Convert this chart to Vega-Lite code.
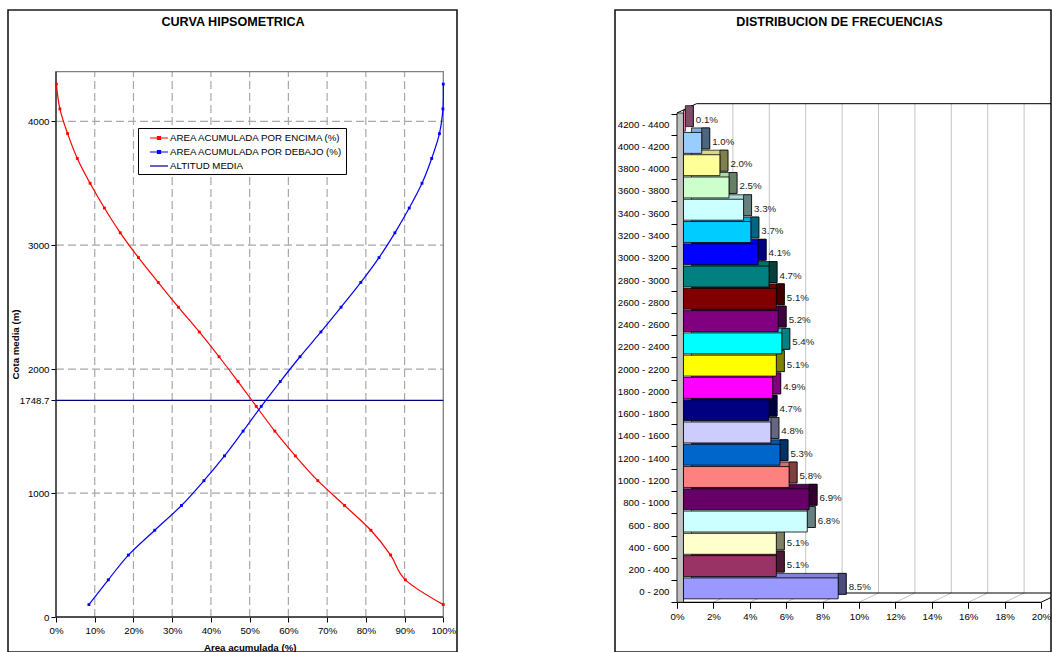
{
  "$schema": "https://vega.github.io/schema/vega-lite/v6.json",
  "background": "white",
  "padding": {"left": 7, "top": 4, "right": 0, "bottom": 0},
  "spacing": 158,
  "bounds": "flush",
  "config": {
    "font": "Liberation Sans",
    "view": {"stroke": "#1a1a1a", "strokeWidth": 1.6},
    "axis": {"labelFont": "Liberation Sans", "titleFont": "Liberation Sans", "labelColor": "#000", "titleColor": "#000", "tickColor": "#000"},
    "legend": {"labelFont": "Liberation Sans"}
  },
  "resolve": {"scale": {"color": "independent", "x": "independent", "y": "independent"}, "legend": {"color": "independent"}},
  "hconcat": [
    {
      "width": 449,
      "height": 642,
      "layer": [
        {
          "data": {"values": [{"g": 0.1}, {"g": 0.2}, {"g": 0.3}, {"g": 0.4}, {"g": 0.5}, {"g": 0.6}, {"g": 0.7}, {"g": 0.8}, {"g": 0.9}]},
          "mark": {"type": "rule", "color": "#a8a8a8", "strokeWidth": 1.2, "strokeDash": [8, 4]},
          "encoding": {
            "x": {"field": "g", "type": "quantitative", "scale": {"domain": [-0.12394, 1.03537], "nice": false, "zero": false}},
            "y": {"datum": 0, "scale": {"domain": [-282.4, 4897.9], "nice": false, "zero": false}},
            "y2": {"datum": 4400}
          }
        },
        {
          "data": {"values": [{"h": 1000}, {"h": 2000}, {"h": 3000}, {"h": 4000}]},
          "mark": {"type": "rule", "color": "#a8a8a8", "strokeWidth": 1.2, "strokeDash": [8, 4]},
          "encoding": {
            "y": {"field": "h", "type": "quantitative", "scale": {"domain": [-282.4, 4897.9], "nice": false, "zero": false}},
            "x": {"datum": 0, "scale": {"domain": [-0.12394, 1.03537], "nice": false, "zero": false}},
            "x2": {"datum": 1}
          }
        },
        {
          "data": {"values": [{}]},
          "mark": {"type": "rect", "fill": null, "fillOpacity": 0, "stroke": "#808080", "strokeWidth": 1.3},
          "encoding": {
            "x": {"datum": 0, "scale": {"domain": [-0.12394, 1.03537], "nice": false, "zero": false}},
            "x2": {"datum": 1},
            "y": {"datum": 0, "scale": {"domain": [-282.4, 4897.9], "nice": false, "zero": false}},
            "y2": {"datum": 4400}
          }
        },
        {
          "data": {"values": [{}]},
          "mark": {"type": "rule", "color": "#000", "strokeWidth": 1},
          "encoding": {
            "x": {"datum": 0, "scale": {"domain": [-0.12394, 1.03537], "nice": false, "zero": false}},
            "y": {"datum": 0, "scale": {"domain": [-282.4, 4897.9], "nice": false, "zero": false}},
            "y2": {"datum": 4400}
          }
        },
        {
          "data": {"values": [{}]},
          "mark": {"type": "rule", "color": "#000", "strokeWidth": 1},
          "encoding": {
            "x": {"datum": 0, "scale": {"domain": [-0.12394, 1.03537], "nice": false, "zero": false}},
            "x2": {"datum": 1},
            "y": {"datum": 0, "scale": {"domain": [-282.4, 4897.9], "nice": false, "zero": false}}
          }
        },
        {
          "data": {"values": [{"titulo": "CURVA HIPSOMETRICA"}]},
          "mark": {"type": "text", "font": "Liberation Sans", "fontSize": 12.6, "fontWeight": "bold", "color": "#000", "align": "center", "baseline": "middle"},
          "encoding": {
            "x": {"datum": 0.4571, "scale": {"domain": [-0.12394, 1.03537], "nice": false, "zero": false}},
            "y": {"datum": 4798.6, "scale": {"domain": [-282.4, 4897.9], "nice": false, "zero": false}},
            "text": {"field": "titulo", "type": "nominal"}
          }
        },
        {
          "data": {"values": [{"serie": "ALTITUD MEDIA", "cota": 1748.7}]},
          "mark": {"type": "rule", "strokeWidth": 1.2},
          "encoding": {
            "y": {"field": "cota", "type": "quantitative", "scale": {"domain": [-282.4, 4897.9], "nice": false, "zero": false}},
            "x": {"datum": 0, "scale": {"domain": [-0.12394, 1.03537], "nice": false, "zero": false}},
            "x2": {"datum": 1},
            "color": {"field": "serie", "type": "nominal"}
          }
        },
        {
          "data": {"values": [
            {"cota": 100, "AREA ACUMULADA POR ENCIMA (%)": 1.000, "AREA ACUMULADA POR DEBAJO (%)": 0.085},
            {"cota": 300, "AREA ACUMULADA POR ENCIMA (%)": 0.902, "AREA ACUMULADA POR DEBAJO (%)": 0.135},
            {"cota": 500, "AREA ACUMULADA POR ENCIMA (%)": 0.864, "AREA ACUMULADA POR DEBAJO (%)": 0.187},
            {"cota": 700, "AREA ACUMULADA POR ENCIMA (%)": 0.813, "AREA ACUMULADA POR DEBAJO (%)": 0.255},
            {"cota": 900, "AREA ACUMULADA POR ENCIMA (%)": 0.745, "AREA ACUMULADA POR DEBAJO (%)": 0.324},
            {"cota": 1100, "AREA ACUMULADA POR ENCIMA (%)": 0.676, "AREA ACUMULADA POR DEBAJO (%)": 0.382},
            {"cota": 1300, "AREA ACUMULADA POR ENCIMA (%)": 0.618, "AREA ACUMULADA POR DEBAJO (%)": 0.435},
            {"cota": 1500, "AREA ACUMULADA POR ENCIMA (%)": 0.565, "AREA ACUMULADA POR DEBAJO (%)": 0.483},
            {"cota": 1700, "AREA ACUMULADA POR ENCIMA (%)": 0.517, "AREA ACUMULADA POR DEBAJO (%)": 0.530},
            {"cota": 1900, "AREA ACUMULADA POR ENCIMA (%)": 0.470, "AREA ACUMULADA POR DEBAJO (%)": 0.579},
            {"cota": 2100, "AREA ACUMULADA POR ENCIMA (%)": 0.421, "AREA ACUMULADA POR DEBAJO (%)": 0.630},
            {"cota": 2300, "AREA ACUMULADA POR ENCIMA (%)": 0.370, "AREA ACUMULADA POR DEBAJO (%)": 0.684},
            {"cota": 2500, "AREA ACUMULADA POR ENCIMA (%)": 0.316, "AREA ACUMULADA POR DEBAJO (%)": 0.736},
            {"cota": 2700, "AREA ACUMULADA POR ENCIMA (%)": 0.264, "AREA ACUMULADA POR DEBAJO (%)": 0.787},
            {"cota": 2900, "AREA ACUMULADA POR ENCIMA (%)": 0.213, "AREA ACUMULADA POR DEBAJO (%)": 0.834},
            {"cota": 3100, "AREA ACUMULADA POR ENCIMA (%)": 0.166, "AREA ACUMULADA POR DEBAJO (%)": 0.875},
            {"cota": 3300, "AREA ACUMULADA POR ENCIMA (%)": 0.125, "AREA ACUMULADA POR DEBAJO (%)": 0.912},
            {"cota": 3500, "AREA ACUMULADA POR ENCIMA (%)": 0.088, "AREA ACUMULADA POR DEBAJO (%)": 0.945},
            {"cota": 3700, "AREA ACUMULADA POR ENCIMA (%)": 0.055, "AREA ACUMULADA POR DEBAJO (%)": 0.970},
            {"cota": 3900, "AREA ACUMULADA POR ENCIMA (%)": 0.030, "AREA ACUMULADA POR DEBAJO (%)": 0.990},
            {"cota": 4100, "AREA ACUMULADA POR ENCIMA (%)": 0.010, "AREA ACUMULADA POR DEBAJO (%)": 0.999},
            {"cota": 4300, "AREA ACUMULADA POR ENCIMA (%)": 0.001, "AREA ACUMULADA POR DEBAJO (%)": 1.000}
          ]},
          "transform": [{"fold": ["AREA ACUMULADA POR ENCIMA (%)", "AREA ACUMULADA POR DEBAJO (%)"], "as": ["serie", "area"]}],
          "mark": {"type": "line", "interpolate": "cardinal", "strokeWidth": 1.2, "point": {"filled": true, "size": 8, "shape": "square"}},
          "encoding": {
            "x": {
              "field": "area", "type": "quantitative",
              "scale": {"domain": [-0.12394, 1.03537], "nice": false, "zero": false},
              "axis": {"orient": "bottom", "offset": -35, "values": [0, 0.1, 0.2, 0.3, 0.4, 0.5, 0.6, 0.7, 0.8, 0.9, 1], "format": ".0%", "domain": false, "grid": false, "tickSize": 5, "labelFontSize": 9.7, "labelPadding": 3, "labelFlush": false, "labelOverlap": false, "title": "Area acumulada (%)", "titleFontSize": 9.7, "titleFontWeight": "bold", "titleX": 241.7, "titleY": 30.5, "titleBaseline": "middle", "titleAlign": "center"}
            },
            "y": {
              "field": "cota", "type": "quantitative",
              "scale": {"domain": [-282.4, 4897.9], "nice": false, "zero": false},
              "axis": {"orient": "left", "offset": -48, "values": [0, 1000, 2000, 3000, 4000, 1748.7], "format": ".1~f", "domain": false, "grid": false, "tickSize": 5, "labelFontSize": 9.7, "labelPadding": 2, "labelOverlap": false, "title": "Cota media (m)", "titleFontSize": 9.7, "titleFontWeight": "bold", "titleAngle": -90, "titleX": -41, "titleY": 334, "titleBaseline": "middle", "titleAlign": "center"}
            },
            "order": {"field": "cota", "type": "quantitative"},
            "color": {
              "field": "serie", "type": "nominal",
              "scale": {"domain": ["AREA ACUMULADA POR ENCIMA (%)", "AREA ACUMULADA POR DEBAJO (%)", "ALTITUD MEDIA"], "range": ["#ff0000", "#0000ff", "#000080"]},
              "legend": {
                "orient": "none", "legendX": 130, "legendY": 118, "title": null,
                "fillColor": "white", "strokeColor": "#000", "padding": 3, "rowPadding": 2,
                "symbolSize": 144, "symbolStrokeWidth": 1.2, "labelOffset": 15, "labelLimit": 400,
                "labelFontSize": 9.7, "labelColor": "#000",
                "symbolType": "M0.33,0H3.33",
                "encode": {
                  "symbols": {
                    "update": {
                      "shape": {"signal": "datum.value === 'ALTITUD MEDIA' ? 'M0.33,0H3.33' : 'M0.33,0H3.33M1.58,-0.25H2.08V0.25H1.58Z'"},
                      "fill": {"signal": "datum.value === 'AREA ACUMULADA POR ENCIMA (%)' ? '#ff0000' : datum.value === 'AREA ACUMULADA POR DEBAJO (%)' ? '#0000ff' : 'transparent'"}
                    }
                  }
                }
              }
            }
          }
        }
      ]
    },
    {
      "width": 436,
      "height": 642,
      "resolve": {"scale": {"y": "independent", "color": "independent"}, "axis": {"y": "independent"}},
      "layer": [
        {
          "data": {"values": [{"g": 0.02}, {"g": 0.04}, {"g": 0.06}, {"g": 0.08}, {"g": 0.10}, {"g": 0.12}, {"g": 0.14}, {"g": 0.16}, {"g": 0.18}, {"g": 0.20}]},
          "mark": {"type": "rule", "color": "#c4c4c4", "strokeWidth": 1, "xOffset": 19.5, "yOffset": -9.3, "y2Offset": -9.3, "clip": true},
          "encoding": {
            "x": {"field": "g", "type": "quantitative", "scale": {"domain": [-0.034066, 0.205495], "nice": false, "zero": false}},
            "y": {"datum": 0, "scale": {"domain": [-2.2346, 26.631], "nice": false, "zero": false}, "axis": null},
            "y2": {"datum": 22}
          }
        },
        {
          "data": {"values": [{"g": 0}, {"g": 0.02}, {"g": 0.04}, {"g": 0.06}, {"g": 0.08}, {"g": 0.10}, {"g": 0.12}, {"g": 0.14}, {"g": 0.16}, {"g": 0.18}]},
          "mark": {"type": "rule", "color": "#c4c4c4", "strokeWidth": 1, "x2Offset": 19.5, "y2Offset": -9.3, "clip": true},
          "encoding": {
            "x": {"field": "g", "type": "quantitative", "scale": {"domain": [-0.034066, 0.205495], "nice": false, "zero": false}},
            "x2": {"field": "g"},
            "y": {"datum": 0, "scale": {"domain": [-2.2346, 26.631], "nice": false, "zero": false}, "axis": null},
            "y2": {"datum": 0}
          }
        },
        {
          "data": {"values": [{}]},
          "mark": {"type": "rule", "color": "#000", "strokeWidth": 1, "x2Offset": 19.5, "y2Offset": -9.3, "clip": true},
          "encoding": {
            "x": {"datum": 0.2, "scale": {"domain": [-0.034066, 0.205495], "nice": false, "zero": false}},
            "x2": {"datum": 0.2},
            "y": {"datum": 0, "scale": {"domain": [-2.2346, 26.631], "nice": false, "zero": false}, "axis": null},
            "y2": {"datum": 0}
          }
        },
        {
          "data": {"values": [{}]},
          "mark": {"type": "rule", "color": "#000", "strokeWidth": 1, "xOffset": 19.5, "x2Offset": 19.5, "yOffset": -9.3, "clip": true},
          "encoding": {
            "x": {"datum": 0, "scale": {"domain": [-0.034066, 0.205495], "nice": false, "zero": false}},
            "x2": {"datum": 0.21},
            "y": {"datum": 0, "scale": {"domain": [-2.2346, 26.631], "nice": false, "zero": false}, "axis": null}
          }
        },
        {
          "data": {"values": [{}]},
          "mark": {"type": "rule", "color": "#000", "strokeWidth": 1, "xOffset": 19.5, "x2Offset": 19.5, "yOffset": -9.3, "clip": true},
          "encoding": {
            "x": {"datum": 0, "scale": {"domain": [-0.034066, 0.205495], "nice": false, "zero": false}},
            "x2": {"datum": 0.21},
            "y": {"datum": 22, "scale": {"domain": [-2.2346, 26.631], "nice": false, "zero": false}, "axis": null}
          }
        },
        {
          "data": {"values": [{}]},
          "mark": {"type": "rule", "color": "#000", "strokeWidth": 1, "x2Offset": 19.5, "y2Offset": -9.3},
          "encoding": {
            "x": {"datum": 0, "scale": {"domain": [-0.034066, 0.205495], "nice": false, "zero": false}},
            "x2": {"datum": 0},
            "y": {"datum": 22, "scale": {"domain": [-2.2346, 26.631], "nice": false, "zero": false}, "axis": null},
            "y2": {"datum": 22}
          }
        },
        {
          "data": {"values": [{}]},
          "mark": {"type": "rule", "color": "#000", "strokeWidth": 1.2},
          "encoding": {
            "x": {"datum": 0, "scale": {"domain": [-0.034066, 0.205495], "nice": false, "zero": false}},
            "x2": {"datum": 0.2},
            "y": {"datum": 0, "scale": {"domain": [-2.2346, 26.631], "nice": false, "zero": false}, "axis": null}
          }
        },
        {
          "data": {"values": [{}]},
          "mark": {"type": "rect", "fill": "#c0c0c0", "stroke": "#000", "strokeWidth": 0.8, "x2Offset": 6.5},
          "encoding": {
            "x": {"datum": 0, "scale": {"domain": [-0.034066, 0.205495], "nice": false, "zero": false}},
            "x2": {"datum": 0},
            "y": {"datum": 0, "scale": {"domain": [-2.2346, 26.631], "nice": false, "zero": false}, "axis": null},
            "y2": {"datum": 22}
          }
        },
        {
          "data": {"values": [{"titulo": "DISTRIBUCION DE FRECUENCIAS"}]},
          "mark": {"type": "text", "font": "Liberation Sans", "fontSize": 12.6, "fontWeight": "bold", "color": "#000", "align": "center", "baseline": "middle"},
          "encoding": {
            "x": {"datum": 0.08929, "scale": {"domain": [-0.034066, 0.205495], "nice": false, "zero": false}},
            "y": {"datum": 26.078, "scale": {"domain": [-2.2346, 26.631], "nice": false, "zero": false}, "axis": null},
            "text": {"field": "titulo", "type": "nominal"}
          }
        },
        {
          "data": {"name": "frecuencias"},
          "mark": {"type": "bar", "stroke": "#000", "strokeWidth": 0.7, "xOffset": 14.5, "x2Offset": 14.5, "yOffset": -8},
          "encoding": {
            "x": {"field": "pct", "type": "quantitative", "scale": {"domain": [-0.034066, 0.205495], "nice": false, "zero": false}},
            "x2": {"datum": 0},
            "y": {"field": "clase", "type": "nominal", "scale": {"type": "band", "domain": ["4200 - 4400","4000 - 4200","3800 - 4000","3600 - 3800","3400 - 3600","3200 - 3400","3000 - 3200","2800 - 3000","2600 - 2800","2400 - 2600","2200 - 2400","2000 - 2200","1800 - 2000","1600 - 1800","1400 - 1600","1200 - 1400","1000 - 1200","800 - 1000","600 - 800","400 - 600","200 - 400","0 - 200"], "range": [103, 593], "paddingInner": 0.06, "paddingOuter": 0.03}, "axis": null},
            "color": {"field": "clase", "type": "nominal", "legend": null, "scale": {"domain": ["4200 - 4400","4000 - 4200","3800 - 4000","3600 - 3800","3400 - 3600","3200 - 3400","3000 - 3200","2800 - 3000","2600 - 2800","2400 - 2600","2200 - 2400","2000 - 2200","1800 - 2000","1600 - 1800","1400 - 1600","1200 - 1400","1000 - 1200","800 - 1000","600 - 800","400 - 600","200 - 400","0 - 200"], "range": ["#D982AD","#82ADD9","#D9D982","#ADD9AD","#ADD9D9","#00ADD9","#0000D9","#006D6D","#6D0000","#6D006D","#00D9D9","#D9D900","#D900D9","#00006D","#ADADD9","#0057AD","#D96D6D","#570057","#ADD9D9","#D9D9AD","#822B57","#8282D9"]}}
          }
        },
        {
          "data": {"name": "frecuencias"},
          "mark": {"type": "bar", "stroke": "#000", "strokeWidth": 0.7, "xOffset": 14.5, "x2Offset": 6.5, "yOffset": -8},
          "encoding": {
            "x": {"field": "pct", "type": "quantitative", "scale": {"domain": [-0.034066, 0.205495], "nice": false, "zero": false}},
            "x2": {"field": "pct"},
            "y": {"field": "clase", "type": "nominal", "scale": {"type": "band", "domain": ["4200 - 4400","4000 - 4200","3800 - 4000","3600 - 3800","3400 - 3600","3200 - 3400","3000 - 3200","2800 - 3000","2600 - 2800","2400 - 2600","2200 - 2400","2000 - 2200","1800 - 2000","1600 - 1800","1400 - 1600","1200 - 1400","1000 - 1200","800 - 1000","600 - 800","400 - 600","200 - 400","0 - 200"], "range": [103, 593], "paddingInner": 0.06, "paddingOuter": 0.03}, "axis": null},
            "color": {"field": "clase", "type": "nominal", "legend": null, "scale": {"domain": ["4200 - 4400","4000 - 4200","3800 - 4000","3600 - 3800","3400 - 3600","3200 - 3400","3000 - 3200","2800 - 3000","2600 - 2800","2400 - 2600","2200 - 2400","2000 - 2200","1800 - 2000","1600 - 1800","1400 - 1600","1200 - 1400","1000 - 1200","800 - 1000","600 - 800","400 - 600","200 - 400","0 - 200"], "range": ["#804C66","#4C6680","#80804C","#668066","#668080","#006680","#000080","#004040","#400000","#400040","#008080","#808000","#800080","#000040","#666680","#003366","#804040","#330033","#668080","#808066","#4C1933","#4C4C80"]}}
          }
        },
        {
          "data": {"name": "frecuencias"},
          "mark": {"type": "bar", "stroke": "#000", "strokeWidth": 0.8, "xOffset": 6.5, "x2Offset": 6.5, "yOffset": -3.5},
          "encoding": {
            "x": {
              "field": "pct", "type": "quantitative",
              "scale": {"domain": [-0.034066, 0.205495], "nice": false, "zero": false},
              "axis": {"orient": "bottom", "offset": -49.7, "values": [0, 0.02, 0.04, 0.06, 0.08, 0.1, 0.12, 0.14, 0.16, 0.18, 0.2], "format": ".0%", "domain": false, "grid": false, "tickSize": 6, "labelFontSize": 9.7, "labelPadding": 3, "labelFlush": false, "labelOverlap": false, "title": null}
            },
            "x2": {"datum": 0},
            "y": {
              "field": "clase", "type": "nominal",
              "scale": {"type": "band", "domain": ["4200 - 4400","4000 - 4200","3800 - 4000","3600 - 3800","3400 - 3600","3200 - 3400","3000 - 3200","2800 - 3000","2600 - 2800","2400 - 2600","2200 - 2400","2000 - 2200","1800 - 2000","1600 - 1800","1400 - 1600","1200 - 1400","1000 - 1200","800 - 1000","600 - 800","400 - 600","200 - 400","0 - 200"], "range": [103, 593], "paddingInner": 0.06, "paddingOuter": 0.03},
              "axis": {"orient": "left", "offset": -62, "tickBand": "extent", "domain": false, "grid": false, "tickSize": 6, "labelPadding": 2, "labelFontSize": 9.7, "labelOverlap": false, "title": null}
            },
            "color": {"field": "clase", "type": "nominal", "legend": null, "scale": {"domain": ["4200 - 4400","4000 - 4200","3800 - 4000","3600 - 3800","3400 - 3600","3200 - 3400","3000 - 3200","2800 - 3000","2600 - 2800","2400 - 2600","2200 - 2400","2000 - 2200","1800 - 2000","1600 - 1800","1400 - 1600","1200 - 1400","1000 - 1200","800 - 1000","600 - 800","400 - 600","200 - 400","0 - 200"], "range": ["#FF99CC","#99CCFF","#FFFF99","#CCFFCC","#CCFFFF","#00CCFF","#0000FF","#008080","#800000","#800080","#00FFFF","#FFFF00","#FF00FF","#000080","#CCCCFF","#0066CC","#FF8080","#660066","#CCFFFF","#FFFFCC","#993366","#9999FF"]}}
          }
        },
        {
          "data": {"name": "frecuencias"},
          "mark": {"type": "text", "align": "left", "baseline": "middle", "dx": 17, "dy": -4.5, "fontSize": 9.7, "font": "Liberation Sans", "color": "#1a1a1a"},
          "encoding": {
            "x": {"field": "pct", "type": "quantitative", "scale": {"domain": [-0.034066, 0.205495], "nice": false, "zero": false}},
            "y": {"field": "clase", "type": "nominal", "scale": {"type": "band", "domain": ["4200 - 4400","4000 - 4200","3800 - 4000","3600 - 3800","3400 - 3600","3200 - 3400","3000 - 3200","2800 - 3000","2600 - 2800","2400 - 2600","2200 - 2400","2000 - 2200","1800 - 2000","1600 - 1800","1400 - 1600","1200 - 1400","1000 - 1200","800 - 1000","600 - 800","400 - 600","200 - 400","0 - 200"], "range": [103, 593], "paddingInner": 0.06, "paddingOuter": 0.03}, "axis": null},
            "text": {"field": "pct", "type": "quantitative", "format": ".1%"}
          }
        }
      ]
    }
  ],
  "datasets": {
    "frecuencias": [
      {"clase": "4200 - 4400", "pct": 0.001},
      {"clase": "4000 - 4200", "pct": 0.010},
      {"clase": "3800 - 4000", "pct": 0.020},
      {"clase": "3600 - 3800", "pct": 0.025},
      {"clase": "3400 - 3600", "pct": 0.033},
      {"clase": "3200 - 3400", "pct": 0.037},
      {"clase": "3000 - 3200", "pct": 0.041},
      {"clase": "2800 - 3000", "pct": 0.047},
      {"clase": "2600 - 2800", "pct": 0.051},
      {"clase": "2400 - 2600", "pct": 0.052},
      {"clase": "2200 - 2400", "pct": 0.054},
      {"clase": "2000 - 2200", "pct": 0.051},
      {"clase": "1800 - 2000", "pct": 0.049},
      {"clase": "1600 - 1800", "pct": 0.047},
      {"clase": "1400 - 1600", "pct": 0.048},
      {"clase": "1200 - 1400", "pct": 0.053},
      {"clase": "1000 - 1200", "pct": 0.058},
      {"clase": "800 - 1000", "pct": 0.069},
      {"clase": "600 - 800", "pct": 0.068},
      {"clase": "400 - 600", "pct": 0.051},
      {"clase": "200 - 400", "pct": 0.051},
      {"clase": "0 - 200", "pct": 0.085}
    ]
  }
}
